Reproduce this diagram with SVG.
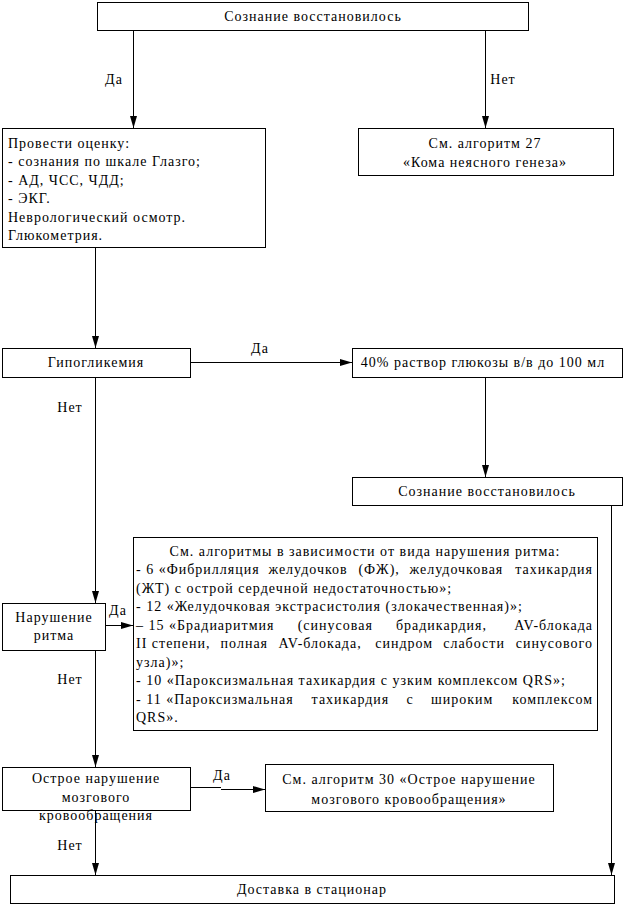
<svg xmlns="http://www.w3.org/2000/svg" width="625" height="906" viewBox="0 0 625 906">
<style>
text{font-family:"Liberation Serif","Times New Roman",serif;font-size:14px;letter-spacing:1px;fill:#000}
.c{text-anchor:middle}
.e{text-anchor:end}
.box{fill:#fff;stroke:#000;stroke-width:1}
.ln{fill:none;stroke:#000;stroke-width:1}
.arr{marker-end:url(#ah)}
</style>
<defs>
<marker id="ah" markerUnits="userSpaceOnUse" viewBox="0 0 12 8" refX="12" refY="4" markerWidth="12" markerHeight="8" orient="auto">
<path d="M0,0.5 L12,4 L0,7.5 Z" fill="#000"/>
</marker>
</defs>
<rect width="625" height="906" fill="#fff"/>

<g id="connectors">
<line class="ln arr" x1="133.5" y1="30" x2="133.5" y2="128"/>
<line class="ln arr" x1="485.5" y1="30" x2="485.5" y2="128"/>
<line class="ln arr" x1="95.5" y1="247" x2="95.5" y2="348"/>
<line class="ln arr" x1="190" y1="362.5" x2="352" y2="362.5"/>
<line class="ln arr" x1="485.5" y1="377" x2="485.5" y2="477"/>
<line class="ln arr" x1="611.5" y1="505" x2="611.5" y2="875"/>
<line class="ln arr" x1="95.5" y1="377" x2="95.5" y2="603"/>
<line class="ln arr" x1="105" y1="625.5" x2="133" y2="625.5"/>
<line class="ln arr" x1="95.5" y1="650" x2="95.5" y2="767"/>
<path class="ln" d="M190,787.5 H221"/>
<line class="ln arr" x1="221" y1="789.5" x2="265" y2="789.5"/>
<line class="ln arr" x1="95.5" y1="810" x2="95.5" y2="875"/>
<text class="c" x="114" y="83.5">Да</text>
<text class="c" x="503" y="83.5">Нет</text>
<text class="c" x="260" y="352.5">Да</text>
<text class="c" x="70" y="411.5">Нет</text>
<text class="c" x="118" y="614.5">Да</text>
<text class="c" x="70" y="683.5">Нет</text>
<text class="c" x="222" y="779.5">Да</text>
<text class="c" x="70" y="849.5">Нет</text>
</g>

<g id="n1">
<rect class="box" x="97.5" y="2.5" width="431" height="28"/>
<text class="c" x="313" y="20.5">Сознание восстановилось</text>
</g>

<g id="n2">
<rect class="box" x="2.5" y="128.5" width="263" height="119"/>
<text x="8" y="147.5">Провести оценку:</text>
<text x="8" y="166">- сознания по шкале Глазго;</text>
<text x="8" y="184.5">- АД, ЧСС, ЧДД;</text>
<text x="8" y="203">- ЭКГ.</text>
<text x="8" y="221.5">Неврологический осмотр.</text>
<text x="8" y="240">Глюкометрия.</text>
</g>

<g id="n3">
<rect class="box" x="358.5" y="128.5" width="255" height="47"/>
<text class="c" x="485" y="147.5">См. алгоритм 27</text>
<text class="c" x="485" y="166.5">«Кома неясного генеза»</text>
</g>

<g id="n4">
<rect class="box" x="2.5" y="348.5" width="188" height="29"/>
<text class="c" x="96" y="367">Гипогликемия</text>
</g>

<g id="n5">
<rect class="box" x="352.5" y="348.5" width="270" height="29"/>
<text class="c" x="483" y="367">40% раствор глюкозы в/в до 100 мл</text>
</g>

<g id="n6">
<rect class="box" x="352.5" y="477.5" width="270" height="28"/>
<text class="c" x="487" y="495.5">Сознание восстановилось</text>
</g>

<g id="n7">
<rect class="box" x="2.5" y="603.5" width="103" height="47"/>
<text class="c" x="54" y="621.5">Нарушение</text>
<text class="c" x="54" y="639.5">ритма</text>
</g>

<g id="n8">
<rect class="box" x="133.5" y="537.5" width="464" height="193"/>
<text class="c" x="365" y="555.5">См. алгоритмы в зависимости от вида нарушения ритма:</text>
<text x="136" y="574">- 6 «Фибрилляция</text>
<text x="268.4" y="574">желудочков</text>
<text x="358.4" y="574">(ФЖ),</text>
<text x="409.5" y="574">желудочковая</text>
<text class="e" x="593" y="574">тахикардия</text>
<text x="136" y="592.5">(ЖТ) с острой сердечной недостаточностью»;</text>
<text x="136" y="611">- 12 «Желудочковая экстрасистолия (злокачественная)»;</text>
<text x="136" y="629.5">– 15 «Брадиаритмия</text>
<text x="297.7" y="629.5">(синусовая</text>
<text x="395.9" y="629.5">брадикардия,</text>
<text class="e" x="593" y="629.5">AV-блокада</text>
<text x="136" y="648">II степени,</text>
<text x="220.6" y="648">полная</text>
<text x="278.5" y="648">AV-блокада,</text>
<text x="375.2" y="648">синдром</text>
<text x="443.2" y="648">слабости</text>
<text class="e" x="593" y="648">синусового</text>
<text x="136" y="666.5">узла)»;</text>
<text x="136" y="685">- 10 «Пароксизмальная тахикардия с узким комплексом QRS»;</text>
<text x="136" y="703.5">- 11 «Пароксизмальная</text>
<text x="311.6" y="703.5">тахикардия</text>
<text x="406.5" y="703.5">с</text>
<text x="430.9" y="703.5">широким</text>
<text class="e" x="593" y="703.5">комплексом</text>
<text x="136" y="722">QRS».</text>
</g>

<g id="n9">
<rect class="box" x="2.5" y="767.5" width="188" height="43"/>
<text class="c" x="96" y="782.5">Острое нарушение</text>
<text class="c" x="96" y="801.5">мозгового</text>
<text class="c" x="96" y="819.5">кровообращения</text>
</g>

<g id="n10">
<rect class="box" x="265.5" y="764.5" width="288" height="47"/>
<text class="c" x="409" y="783.5">См. алгоритм 30 «Острое нарушение</text>
<text class="c" x="409" y="803.5">мозгового кровообращения»</text>
</g>

<g id="n11">
<rect class="box" x="10.5" y="875.5" width="604" height="28"/>
<text class="c" x="312" y="893.5">Доставка в стационар</text>
</g>
</svg>
